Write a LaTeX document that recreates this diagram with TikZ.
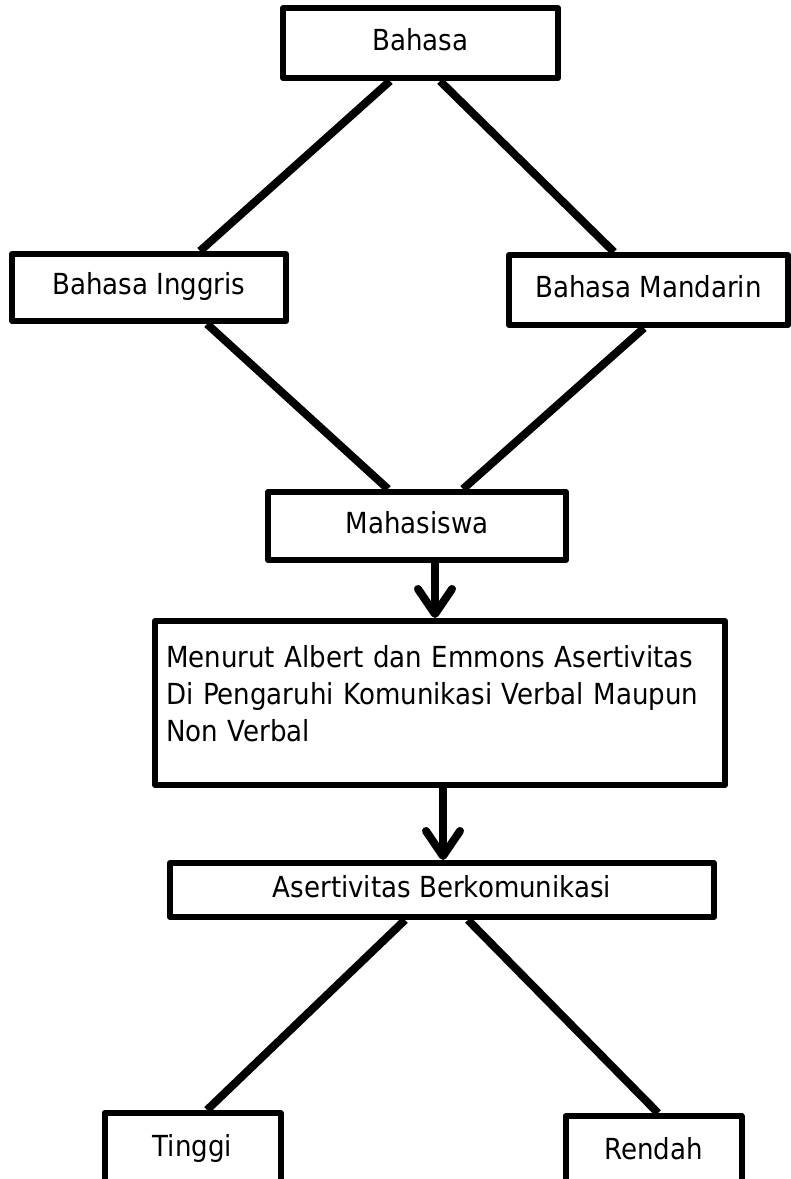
\documentclass[tikz,border=0pt]{standalone}
\usepackage{fontspec}
\setmainfont{DejaVu Sans Condensed}
\usetikzlibrary{arrows.meta}

\begin{document}
\begin{tikzpicture}[x=1pt,y=-1pt,line width=8pt,line join=round,
  font=\fontsize{29}{37}\selectfont,
  box/.style={draw,line width=6pt,inner sep=0pt,text height=21pt,text depth=7pt},
  leaf/.style={draw,line width=6pt,inner sep=0pt,anchor=north,minimum width=176pt,text height=43pt,text depth=100pt},
  arr/.style={-{Straight Barb[length=25pt,width=34pt,round]}}]
\useasboundingbox (0,0) rectangle (791,1179);
\clip (0,0) rectangle (791,1179);
\node[box,minimum width=275pt,minimum height=70pt] (bahasa) at (420.5,43) {Bahasa};
\node[box,minimum width=274pt,minimum height=67pt] (inggris) at (149,287.5) {Bahasa Inggris};
\node[box,minimum width=279pt,minimum height=70pt] (mandarin) at (648.5,290) {Bahasa Mandarin};
\node[box,minimum width=298pt,minimum height=68pt] (mhs) at (417,526) {Mahasiswa};
\node[draw,line width=6pt,inner xsep=11pt,inner ysep=0pt,anchor=north west,text width=548pt,align=left,
  text height=46pt,text depth=118pt] (big) at (152,618)
  {Menurut Albert dan Emmons Asertivitas\\Di Pengaruhi Komunikasi Verbal Maupun\\Non Verbal};
\node[box,minimum width=544pt,minimum height=54pt] (asert) at (442,890) {Asertivitas Berkomunikasi};
\node[leaf] (tinggi) at (192.5,1110) {Tinggi};
\node[leaf] (rendah) at (653.5,1113) {Rendah};
\draw ([xshift=-30.5pt]bahasa.south) -- ([xshift=51pt]inggris.north);
\draw ([xshift=19.5pt]bahasa.south) -- ([xshift=-34.5pt]mandarin.north);
\draw ([xshift=58pt]inggris.south) -- ([xshift=-29pt]mhs.north);
\draw ([xshift=-4.5pt]mandarin.south) -- ([xshift=46pt]mhs.north);
\draw[arr] ([xshift=18pt]mhs.south) -- ([xshift=18pt]mhs.south |- big.north);
\draw[arr] ([xshift=3pt]big.south) -- ([xshift=3pt]big.south |- asert.north);
\draw ([xshift=-37pt]asert.south) -- ([xshift=14.5pt]tinggi.north);
\draw ([xshift=26pt]asert.south) -- ([xshift=4.5pt]rendah.north);
\end{tikzpicture}
\end{document}
